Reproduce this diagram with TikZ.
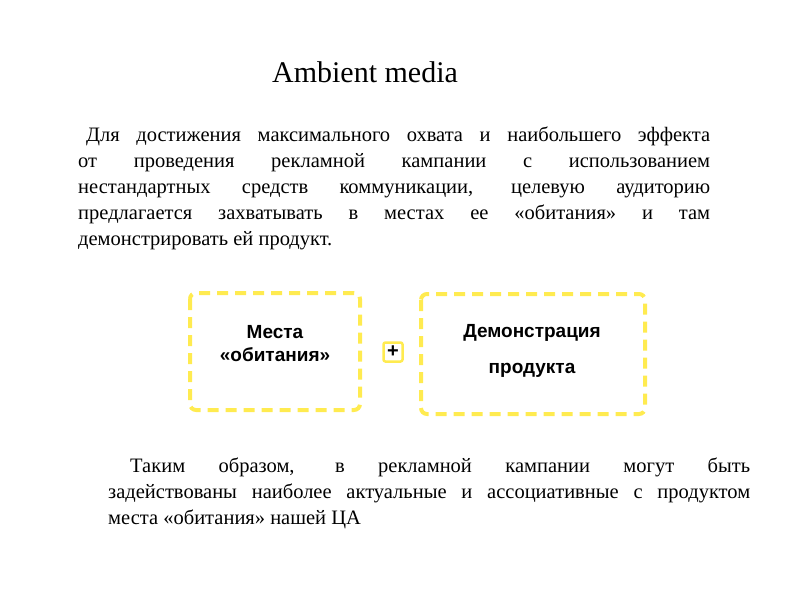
\documentclass[tikz,border=0pt]{standalone}
\usepackage{fontspec}
\setmainfont{Liberation Serif}
\newfontfamily\boxfont{Liberation Sans}
\definecolor{ylw}{HTML}{FFEB50}
\begin{document}
\begin{tikzpicture}[x=1pt,y=-1pt,
  dbox/.style={draw=ylw,line width=4pt,dash pattern=on 11pt off 7pt,rounded corners=6pt},
  para/.style={anchor=north west,inner sep=0pt,align=justify,font=\fontsize{20.5}{26}\selectfont},
  btext/.style={align=center,font=\boxfont\bfseries\fontsize{19}{23}\selectfont}]
\useasboundingbox (0,0) rectangle (800,600);
\node (title) at (365,72) {\fontsize{30}{34}\selectfont Ambient media};
\node[para,text width=632pt] (p1) at (78,127) {\hspace*{8pt}Для достижения максимального охвата и наибольшего эффекта\linebreak от проведения рекламной кампании с использованием\linebreak нестандартных средств коммуникации, целевую аудиторию\linebreak предлагается захватывать в местах ее «обитания» и там\linebreak демонстрировать ей продукт.\par};
\draw[dbox] (190,293) rectangle (360,410);
\draw[dbox] (421,294) rectangle (645,414);
\node[btext] (m) at (275,344) {Места\\«обитания»};
\node[btext,font=\boxfont\bfseries\fontsize{19}{36}\selectfont] (d) at (532,351) {Демонстрация\\продукта};
\node[draw=ylw,line width=2.5pt,rounded corners=2pt,minimum size=19pt,inner sep=0pt,font=\boxfont\bfseries\fontsize{20}{20}\selectfont] (plus) at (393,352) {+};
\node[para,text width=642pt] (p2) at (108,458) {\hspace*{22pt}Таким образом, в рекламной кампании могут быть\linebreak задействованы наиболее актуальные и ассоциативные с продуктом\linebreak места «обитания» нашей ЦА\par};
\end{tikzpicture}
\end{document}
